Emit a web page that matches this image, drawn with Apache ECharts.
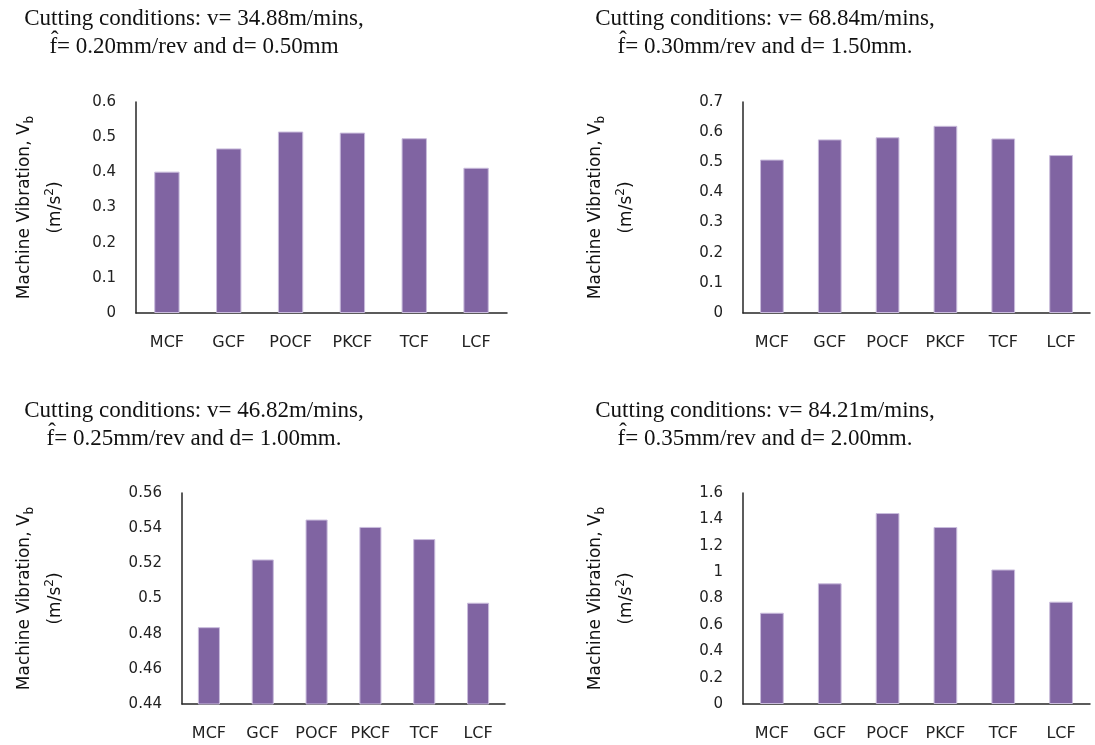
<!DOCTYPE html>
<html>
<head>
<meta charset="utf-8">
<script src="https://cdn.jsdelivr.net/npm/echarts@6/dist/echarts.min.js"></script>
<style>
html,body{margin:0;padding:0;background:#fff;}
#c{width:1095px;height:745px;}
</style>
</head>
<body>
<div id="c"></div>
<script>
// ---- data ----
const categories = ['MCF', 'GCF', 'POCF', 'PKCF', 'TCF', 'LCF'];
const vib1 = [0.402, 0.468, 0.516, 0.513, 0.497, 0.413];   // v=34.88
const vib2 = [0.509, 0.576, 0.583, 0.621, 0.579, 0.524];   // v=68.84
const vib3 = [0.4837, 0.5222, 0.5449, 0.5407, 0.5338, 0.4976]; // v=46.82
const vib4 = [0.692, 0.915, 1.448, 1.342, 1.020, 0.776];   // v=84.21
const titles = [
  'Cutting conditions: v= 34.88m/mins,\nf\u0302= 0.20mm/rev and d= 0.50mm',
  'Cutting conditions: v= 68.84m/mins,\nf\u0302= 0.30mm/rev and d= 1.50mm.',
  'Cutting conditions: v= 46.82m/mins,\nf\u0302= 0.25mm/rev and d= 1.00mm.',
  'Cutting conditions: v= 84.21m/mins,\nf\u0302= 0.35mm/rev and d= 2.00mm.'
];
const yRanges = [
  {min: 0, max: 0.6, interval: 0.1},
  {min: 0, max: 0.7, interval: 0.1},
  {min: 0.44, max: 0.56, interval: 0.02},
  {min: 0, max: 1.6, interval: 0.2}
];
const seriesData = [vib1, vib2, vib3, vib4];

// ---- layout ----
const grids = [
  {left: 136, top: 102, width: 371, height: 211},
  {left: 743, top: 102, width: 347, height: 211},
  {left: 182, top: 493, width: 323, height: 211},
  {left: 743, top: 493, width: 347, height: 211}
];
const nameGaps = [96, 132, 142, 132];
const titlePos = [
  {left: 194, top: 5},
  {left: 765, top: 5},
  {left: 194, top: 397},
  {left: 765, top: 397}
];

const sansFont = 'DejaVu Sans';
const axisColor = '#262626';
const labelColor = '#222222';

const chart = echarts.init(document.getElementById('c'), null, {renderer: 'canvas'});

const option = {
  backgroundColor: '#ffffff',
  animation: false,
  title: titles.map((t, i) => ({
    text: t,
    left: titlePos[i].left,
    top: titlePos[i].top,
    padding: 0,
    textAlign: 'center',
    textStyle: {
      fontFamily: 'Liberation Serif',
      fontSize: 23,
      fontWeight: 'normal',
      color: '#111',
      lineHeight: 28
    }
  })),
  grid: grids.map(g => Object.assign({containLabel: false}, g)),
  xAxis: grids.map((g, i) => ({
    type: 'category',
    gridIndex: i,
    data: categories,
    axisTick: {show: false},
    axisLine: {lineStyle: {color: axisColor, width: 1.5}},
    axisLabel: {
      margin: 22,
      color: labelColor,
      fontFamily: sansFont,
      fontSize: 16,
      interval: 0
    }
  })),
  yAxis: grids.map((g, i) => ({
    type: 'value',
    gridIndex: i,
    min: yRanges[i].min,
    max: yRanges[i].max,
    interval: yRanges[i].interval,
    axisLine: {show: true, lineStyle: {color: axisColor, width: 1.5}},
    axisTick: {show: false},
    splitLine: {show: false},
    axisLabel: {
      margin: 20,
      color: labelColor,
      fontFamily: sansFont,
      fontSize: 15
    },
    name: '{t|Machine Vibration, V}{sub|b}\n{t|(m/s}{sup|2}{t|)}',
    nameLocation: 'middle',
    nameRotate: 90,
    nameGap: nameGaps[i],
    nameTextStyle: {
      verticalAlign: 'middle',
      align: 'center',
      color: '#111',
      rich: {
        t: {fontFamily: sansFont, fontSize: 17, color: '#111', lineHeight: 31},
        sub: {fontFamily: sansFont, fontSize: 12, color: '#111', lineHeight: 31, verticalAlign: 'bottom', padding: [0, 0, 4, 0]},
        sup: {fontFamily: sansFont, fontSize: 12, color: '#111', lineHeight: 31, verticalAlign: 'top', padding: [4, 0, 0, 0]}
      }
    }
  })),
  series: seriesData.map((d, i) => ({
    type: 'bar',
    xAxisIndex: i,
    yAxisIndex: i,
    data: d,
    barWidth: '41%',
    itemStyle: {color: '#8064A2', borderColor: '#c9bcdc', borderWidth: 1}
  }))
};
chart.setOption(option);
</script>
</body>
</html>
